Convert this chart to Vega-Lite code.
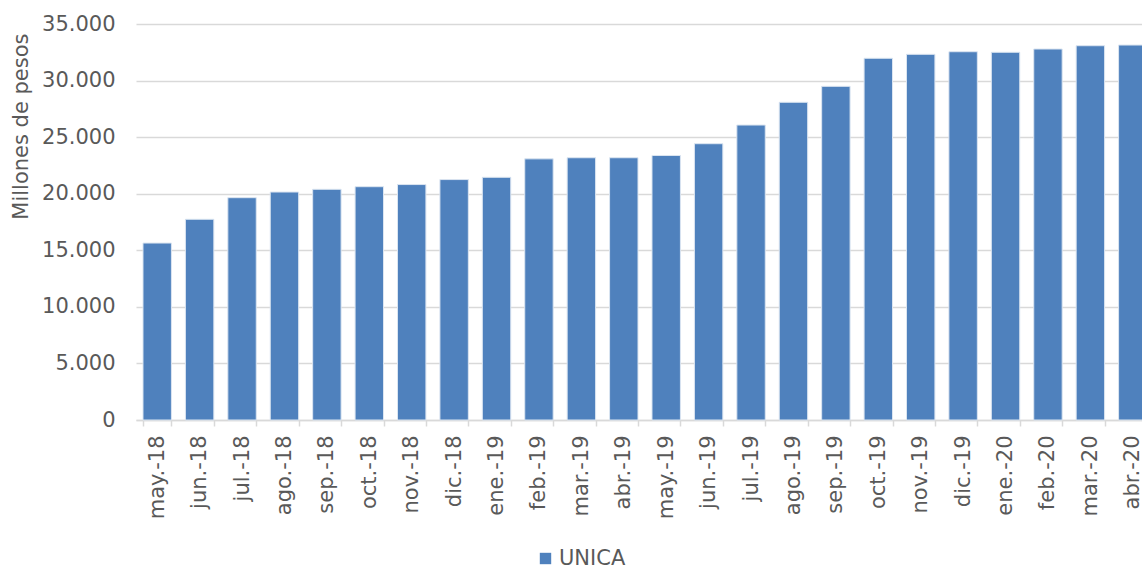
{
  "$schema": "https://vega.github.io/schema/vega-lite/v6.json",
  "autosize": {"type": "none"},
  "width": 1006,
  "height": 396,
  "padding": {"left": 136, "top": 24, "right": 0, "bottom": 151},
  "background": "white",
  "config": {
    "view": {"stroke": null},
    "font": "DejaVu Sans"
  },
  "data": {
    "values": [
      {"mes": "may.-18", "serie": "UNICA", "valor": 15640},
      {"mes": "jun.-18", "serie": "UNICA", "valor": 17740},
      {"mes": "jul.-18", "serie": "UNICA", "valor": 19650},
      {"mes": "ago.-18", "serie": "UNICA", "valor": 20150},
      {"mes": "sep.-18", "serie": "UNICA", "valor": 20390},
      {"mes": "oct.-18", "serie": "UNICA", "valor": 20620},
      {"mes": "nov.-18", "serie": "UNICA", "valor": 20810},
      {"mes": "dic.-18", "serie": "UNICA", "valor": 21250},
      {"mes": "ene.-19", "serie": "UNICA", "valor": 21450},
      {"mes": "feb.-19", "serie": "UNICA", "valor": 23080},
      {"mes": "mar.-19", "serie": "UNICA", "valor": 23180},
      {"mes": "abr.-19", "serie": "UNICA", "valor": 23180},
      {"mes": "may.-19", "serie": "UNICA", "valor": 23380},
      {"mes": "jun.-19", "serie": "UNICA", "valor": 24420},
      {"mes": "jul.-19", "serie": "UNICA", "valor": 26070},
      {"mes": "ago.-19", "serie": "UNICA", "valor": 28080},
      {"mes": "sep.-19", "serie": "UNICA", "valor": 29490},
      {"mes": "oct.-19", "serie": "UNICA", "valor": 31970},
      {"mes": "nov.-19", "serie": "UNICA", "valor": 32320},
      {"mes": "dic.-19", "serie": "UNICA", "valor": 32550},
      {"mes": "ene.-20", "serie": "UNICA", "valor": 32500},
      {"mes": "feb.-20", "serie": "UNICA", "valor": 32790},
      {"mes": "mar.-20", "serie": "UNICA", "valor": 33080},
      {"mes": "abr.-20", "serie": "UNICA", "valor": 33140}
    ]
  },
  "mark": {"type": "bar", "stroke": "#dbe5f1", "strokeWidth": 1},
  "encoding": {
    "x": {
      "field": "mes",
      "type": "nominal",
      "sort": null,
      "scale": {"range": [0, 1018], "paddingInner": 0.33, "paddingOuter": 0.165},
      "axis": {
        "title": null,
        "labelAngle": -90,
        "labelFontSize": 21,
        "labelColor": "#595959",
        "labelPadding": 9,
        "domainColor": "#d9d9d9",
        "domainWidth": 1.5,
        "tickColor": "#d9d9d9",
        "tickWidth": 1.5,
        "tickSize": 6,
        "tickBand": "extent",
        "grid": false
      }
    },
    "y": {
      "field": "valor",
      "type": "quantitative",
      "scale": {"domain": [0, 35000], "nice": false},
      "axis": {
        "title": "Millones de pesos",
        "values": [0, 5000, 10000, 15000, 20000, 25000, 30000, 35000],
        "labelExpr": "replace(format(datum.value, ','), ',', '.')",
        "labelFontSize": 21,
        "labelColor": "#595959",
        "labelPadding": 21,
        "domain": false,
        "ticks": false,
        "gridColor": "#d9d9d9",
        "gridWidth": 1.5,
        "titleFontSize": 21,
        "titleFontWeight": "normal",
        "titleColor": "#595959",
        "titleAnchor": "end",
        "titleY": 9,
        "titleX": -115,
        "titleBaseline": "middle"
      }
    },
    "color": {
      "field": "serie",
      "type": "nominal",
      "scale": {"range": ["#4F81BD"]},
      "legend": {
        "title": null,
        "orient": "none",
        "legendX": 399,
        "legendY": 524,
        "symbolType": "square",
        "symbolSize": 130,
        "symbolStrokeWidth": 0,
        "labelFontSize": 21,
        "labelColor": "#595959",
        "labelOffset": 3
      }
    }
  }
}
